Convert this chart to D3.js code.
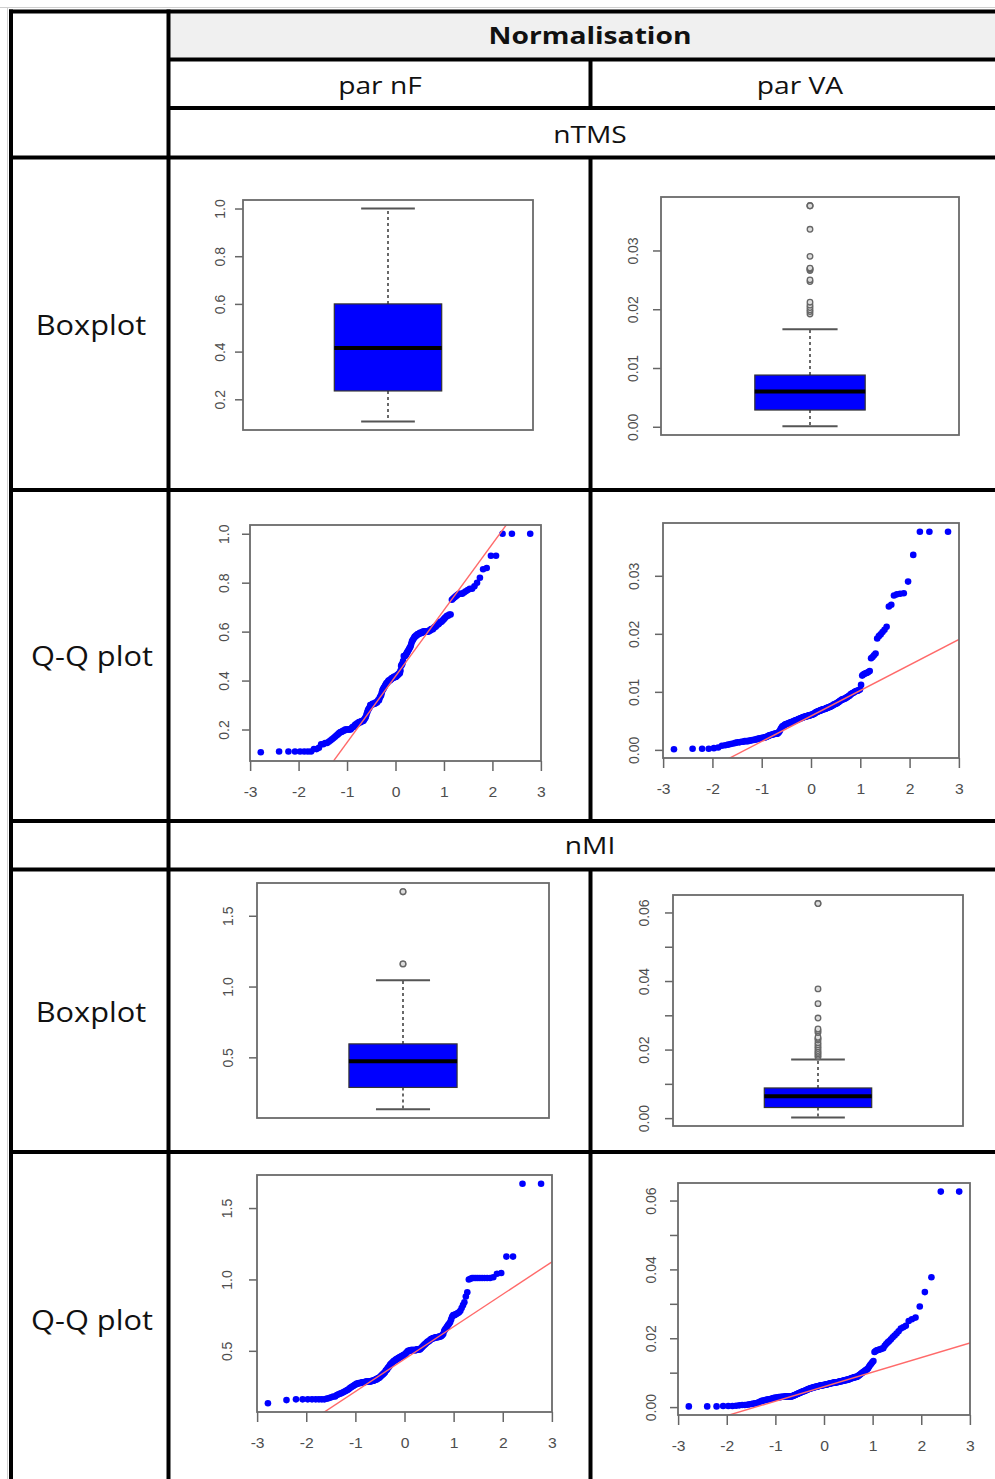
<!DOCTYPE html>
<html>
<head>
<meta charset="utf-8">
<script src="https://cdn.jsdelivr.net/npm/d3@7"></script>
<style>
  body { margin: 0; background: #fff; }
  text { font-family: "Open Sans", "DejaVu Sans", sans-serif; }
  .tick text { font-family: "Liberation Sans", Arial, sans-serif; }
</style>
</head>
<body>
<svg id="chart" width="995" height="1479"></svg>
<script>
// Table labels
const headerTitle = "Normalisation";
const columnLabels = ["par nF", "par VA"];
const groupLabels = ["nTMS", "nMI"];
const rowLabels = ["Boxplot", "Q-Q plot"];

// Samples (sorted); the boxplots use the same values
const nTMS_nF = [
  0.107, 0.11, 0.11, 0.11, 0.11, 0.11, 0.11, 0.11,
  0.12, 0.12, 0.125,
  0.14, 0.14, 0.145, 0.145, 0.15,
  0.155, 0.16,
  0.165, 0.17, 0.175,
  0.18, 0.185, 0.19, 0.19,
  0.195, 0.195, 0.2, 0.2,
  0.2, 0.2, 0.2, 0.2, 0.205,
  0.21, 0.21, 0.215, 0.22, 0.22,
  0.225, 0.225, 0.23, 0.23, 0.23, 0.235,
  0.235, 0.235, 0.24, 0.245, 0.25, 0.26,
  0.27, 0.28, 0.285, 0.29, 0.3, 0.3,
  0.3, 0.305, 0.305, 0.305, 0.305, 0.31, 0.31,
  0.31, 0.315, 0.32, 0.32, 0.33, 0.335, 0.34,
  0.35, 0.36, 0.365, 0.37, 0.375, 0.38, 0.385,
  0.39, 0.39, 0.395, 0.4, 0.4, 0.4, 0.405,
  0.405, 0.41, 0.41, 0.41, 0.415, 0.415, 0.415,
  0.415, 0.42, 0.42, 0.425, 0.425, 0.43, 0.43,
  0.44, 0.46, 0.465, 0.47, 0.48, 0.5, 0.5, 0.5,
  0.505, 0.51, 0.515, 0.52, 0.525, 0.53, 0.535,
  0.54, 0.55, 0.56, 0.565, 0.57, 0.575, 0.58,
  0.58, 0.585, 0.585, 0.59, 0.59, 0.59,
  0.595, 0.595, 0.595, 0.595, 0.6, 0.6, 0.6,
  0.6, 0.6, 0.6, 0.6, 0.6, 0.605,
  0.605, 0.61, 0.61, 0.61, 0.615,
  0.62, 0.62, 0.625, 0.63, 0.63,
  0.635, 0.64, 0.64, 0.645, 0.65,
  0.655, 0.66, 0.665, 0.665,
  0.67, 0.67, 0.73, 0.735,
  0.74, 0.745, 0.75,
  0.755, 0.755, 0.755,
  0.76, 0.765, 0.77,
  0.775, 0.775,
  0.785, 0.8,
  0.82,
  0.855, 0.86,
  0.91, 0.91,
  1.0, 1.0, 1.0
];

const nTMS_VA = [
  0.0001, 0.0002, 0.0002, 0.0002, 0.0003, 0.0004,
  0.0007, 0.0008, 0.0009, 0.001, 0.0011, 0.0012,
  0.0013, 0.0013, 0.0014, 0.0014, 0.0015, 0.0015, 0.0015, 0.0016, 0.0016, 0.0017, 0.0017, 0.0018, 0.0018,
  0.0019, 0.0019, 0.002, 0.002, 0.0021, 0.0021, 0.0021, 0.0022, 0.0022, 0.0023, 0.0024, 0.0025,
  0.0025, 0.0026, 0.0026, 0.0027, 0.0027, 0.0028, 0.0028, 0.0028, 0.0028,
  0.0029, 0.0031, 0.0033, 0.0036, 0.0038,
  0.004, 0.0041, 0.0042, 0.0043, 0.0044, 0.0044, 0.0045, 0.0045, 0.0046, 0.0046, 0.0047, 0.0047,
  0.0048, 0.0048, 0.0049, 0.0049, 0.005, 0.005, 0.0051, 0.0051, 0.0052, 0.0052, 0.0053, 0.0053,
  0.0054, 0.0054, 0.0055, 0.0055, 0.0056, 0.0056, 0.0057, 0.0057, 0.0057, 0.0058, 0.0058, 0.0058, 0.0059, 0.0059, 0.0059, 0.006, 0.006,
  0.006, 0.0061, 0.0061, 0.0062, 0.0062, 0.0063, 0.0064,
  0.0065, 0.0065, 0.0066, 0.0066, 0.0067, 0.0067, 0.0068, 0.0068, 0.0069, 0.0069, 0.007, 0.007, 0.007, 0.0071, 0.0071, 0.0072, 0.0072, 0.0073, 0.0073, 0.0074, 0.0074, 0.0075, 0.0075,
  0.0076, 0.0077, 0.0078, 0.0078, 0.0079, 0.008, 0.008, 0.0081, 0.0082, 0.0083, 0.0084, 0.0085, 0.0086, 0.0087, 0.0087, 0.0088, 0.0088, 0.0089, 0.009, 0.0091, 0.0092, 0.0093, 0.0094,
  0.0096, 0.0097, 0.0098, 0.0099, 0.01, 0.0101, 0.0102, 0.0102, 0.0103, 0.0104,
  0.0112,
  0.0128, 0.013, 0.0131, 0.0132, 0.0133, 0.0134, 0.0136,
  0.0158, 0.016, 0.0163, 0.0166,
  0.0192, 0.0196, 0.0199, 0.0203, 0.0207, 0.0212,
  0.0247, 0.025,
  0.0266, 0.0268, 0.0269, 0.027,
  0.029,
  0.0336,
  0.0376, 0.0376, 0.0376
];

const nMI_nF = [
  0.133,
  0.155,
  0.16, 0.16, 0.16, 0.16, 0.16, 0.16, 0.16, 0.16,
  0.165, 0.17, 0.175, 0.18, 0.18,
  0.19, 0.195, 0.2, 0.205, 0.21, 0.215, 0.22, 0.225, 0.23,
  0.24, 0.245, 0.25, 0.255, 0.26, 0.265, 0.27,
  0.27, 0.275, 0.275, 0.275, 0.28, 0.28, 0.28, 0.28, 0.285, 0.285, 0.285, 0.285, 0.285, 0.285,
  0.285, 0.29, 0.29, 0.29, 0.295, 0.295, 0.3, 0.3, 0.305, 0.31, 0.31, 0.315, 0.32,
  0.325, 0.33, 0.335, 0.34, 0.345, 0.35, 0.36, 0.365, 0.37, 0.38, 0.385, 0.39, 0.4,
  0.405, 0.41, 0.415, 0.42, 0.425, 0.43, 0.43, 0.435, 0.44, 0.44, 0.445, 0.45, 0.45, 0.455, 0.455, 0.46, 0.46, 0.465, 0.465, 0.47, 0.47,
  0.475, 0.48, 0.485, 0.49, 0.495, 0.5, 0.5, 0.5, 0.5, 0.505, 0.505, 0.505, 0.505, 0.505, 0.505, 0.505, 0.505, 0.505, 0.51, 0.51, 0.51, 0.51, 0.51, 0.515, 0.52, 0.525, 0.53, 0.535, 0.54,
  0.545, 0.55, 0.555, 0.56, 0.565, 0.565, 0.57, 0.575, 0.58,
  0.585, 0.585, 0.59, 0.59, 0.59, 0.595, 0.595, 0.595, 0.595, 0.6, 0.6, 0.6, 0.605, 0.61, 0.62,
  0.64, 0.65, 0.66, 0.67, 0.68, 0.69, 0.7,
  0.72, 0.74, 0.75, 0.75, 0.755, 0.76,
  0.765, 0.77, 0.78, 0.8, 0.82, 0.84,
  0.88, 0.91,
  1.0, 1.005, 1.01, 1.01, 1.01, 1.01, 1.01, 1.01, 1.01, 1.01, 1.01, 1.015,
  1.04, 1.045,
  1.16, 1.16,
  1.67, 1.67
];

const nMI_VA = [
  0.0002, 0.0002, 0.0002, 0.0003, 0.0003, 0.0003, 0.0004,
  0.0005, 0.0006, 0.0006, 0.0007, 0.0008, 0.0009, 0.001, 0.0011, 0.0012, 0.0014,
  0.0016, 0.0018, 0.0019, 0.002, 0.0021, 0.0022, 0.0023, 0.0023, 0.0024, 0.0025, 0.0026, 0.0027,
  0.0027, 0.0028, 0.0028, 0.0029, 0.0029, 0.0029, 0.003, 0.003, 0.003, 0.003, 0.0031, 0.0031, 0.0031, 0.0031, 0.0031, 0.0031,
  0.0031, 0.0031, 0.0032, 0.0033, 0.0034, 0.0035, 0.0036, 0.0037, 0.0038, 0.0039, 0.004, 0.0041, 0.0042, 0.0043, 0.0044, 0.0045, 0.0046, 0.0046, 0.0047, 0.0048, 0.0049, 0.005,
  0.0051, 0.0052, 0.0053, 0.0053, 0.0054, 0.0055, 0.0055, 0.0056, 0.0057, 0.0057, 0.0058, 0.0058, 0.0059, 0.0059, 0.006, 0.006, 0.0061, 0.0061, 0.0062, 0.0062, 0.0063, 0.0063, 0.0063, 0.0064, 0.0064,
  0.0064, 0.0065, 0.0065, 0.0066, 0.0066, 0.0067, 0.0067, 0.0068, 0.0068, 0.0069, 0.0069, 0.007, 0.007, 0.007, 0.0071, 0.0071, 0.0071, 0.0072, 0.0072, 0.0072, 0.0073, 0.0073, 0.0074, 0.0074, 0.0075,
  0.0075, 0.0076, 0.0076, 0.0077, 0.0077, 0.0078, 0.0078, 0.0079, 0.0079, 0.008, 0.008, 0.0081, 0.0082, 0.0083, 0.0084, 0.0085, 0.0085, 0.0086, 0.0087, 0.0087, 0.0088,
  0.0088, 0.009, 0.0092, 0.0094, 0.0096, 0.0098, 0.01, 0.0102, 0.0104, 0.0106, 0.0108, 0.011, 0.0113,
  0.0118, 0.0122, 0.0126, 0.013, 0.0134,
  0.016, 0.0163, 0.0165, 0.0166, 0.0167, 0.0168, 0.017, 0.0171,
  0.0178, 0.0183, 0.0188, 0.0192, 0.0197, 0.0203, 0.0208, 0.0214, 0.022, 0.0228,
  0.0232, 0.0236,
  0.025, 0.0255, 0.026,
  0.0292,
  0.0334,
  0.0377,
  0.0626, 0.0626
];

// Axis ticks (values and printed labels, as R drew them)
const ticks_nTMS_nF = [0.2, 0.4, 0.6, 0.8, 1.0];
const labels_nTMS_nF = ["0.2", "0.4", "0.6", "0.8", "1.0"];
const ticks_nTMS_VA = [0, 0.01, 0.02, 0.03];
const labels_nTMS_VA = ["0.00", "0.01", "0.02", "0.03"];
const ticks_nMI_nF = [0.5, 1.0, 1.5];
const labels_nMI_nF = ["0.5", "1.0", "1.5"];
const ticks_nMI_VA = [0, 0.01, 0.02, 0.03, 0.04, 0.05, 0.06];
const labels_nMI_VA = ["0.00", "", "0.02", "", "0.04", "", "0.06"];
const qqTicks = [-3, -2, -1, 0, 1, 2, 3];
const qqTickLabels = ["-3", "-2", "-1", "0", "1", "2", "3"];

// Panel placement inside the table: frame = [left, top, right, bottom]
const panels = [
  {kind: "box", sample: nTMS_nF, ticks: ticks_nTMS_nF, labels: labels_nTMS_nF, frame: [243, 200, 533, 430], labelOff: 24},
  {kind: "box", sample: nTMS_VA, ticks: ticks_nTMS_VA, labels: labels_nTMS_VA, frame: [661, 197, 959, 435], labelOff: 29},
  {kind: "qq", sample: nTMS_nF, ticks: ticks_nTMS_nF, labels: labels_nTMS_nF, frame: [250, 525, 541, 761], labelOff: 27},
  {kind: "qq", sample: nTMS_VA, ticks: ticks_nTMS_VA, labels: labels_nTMS_VA, frame: [663, 523, 959, 758], labelOff: 30},
  {kind: "box", sample: nMI_nF, ticks: ticks_nMI_nF, labels: labels_nMI_nF, frame: [257, 883, 549, 1118], labelOff: 30},
  {kind: "box", sample: nMI_VA, ticks: ticks_nMI_VA, labels: labels_nMI_VA, frame: [673, 895, 963, 1126], labelOff: 30},
  {kind: "qq", sample: nMI_nF, ticks: ticks_nMI_nF, labels: labels_nMI_nF, frame: [257, 1175, 552, 1412], labelOff: 31},
  {kind: "qq", sample: nMI_VA, ticks: ticks_nMI_VA, labels: labels_nMI_VA, frame: [678, 1183, 970, 1415], labelOff: 28}
];

// Inverse of the standard normal CDF (Acklam), for theoretical quantiles
function qnorm(p) {
  const a = [-39.69683028665376, 220.9460984245205, -275.9285104469687, 138.3577518672690, -30.66479806614716, 2.506628277459239];
  const b = [-54.47609879822406, 161.5858368580409, -155.6989798598866, 66.80131188771972, -13.28068155288572];
  const c = [-0.007784894002430293, -0.3223964580411365, -2.400758277161838, -2.549671010637556, 4.374664141464968, 2.938163982698783];
  const d = [0.007784695709041462, 0.3224671290700398, 2.445134137142996, 3.754408661907416];
  const pl = 0.02425;
  let q, r;
  if (p < pl) {
    q = Math.sqrt(-2 * Math.log(p));
    return (((((c[0]*q+c[1])*q+c[2])*q+c[3])*q+c[4])*q+c[5]) / ((((d[0]*q+d[1])*q+d[2])*q+d[3])*q+1);
  }
  if (p <= 1 - pl) {
    q = p - 0.5; r = q * q;
    return (((((a[0]*r+a[1])*r+a[2])*r+a[3])*r+a[4])*r+a[5])*q / (((((b[0]*r+b[1])*r+b[2])*r+b[3])*r+b[4])*r+1);
  }
  q = Math.sqrt(-2 * Math.log(1 - p));
  return -(((((c[0]*q+c[1])*q+c[2])*q+c[3])*q+c[4])*q+c[5]) / ((((d[0]*q+d[1])*q+d[2])*q+d[3])*q+1);
}

// R-style axis range: data range stretched by 4% on each side
function rRange(ext) {
  const pad = (ext[1] - ext[0]) * 0.04;
  return [ext[0] - pad, ext[1] + pad];
}

const svg = d3.select("#chart");

// ---- table ----
svg.append("rect").attr("x", 168).attr("y", 11).attr("width", 830).attr("height", 48).attr("fill", "#f0f0f0");
svg.append("line").attr("x1", 0).attr("x2", 995).attr("y1", 7.5).attr("y2", 7.5).attr("stroke", "#cfcfcf");
svg.append("line").attr("x1", 7.5).attr("x2", 7.5).attr("y1", 7.5).attr("y2", 1479).attr("stroke", "#cfcfcf");

const hLines = [[11.5, 9, 995], [59.5, 168, 995], [108, 168, 995], [157.5, 9, 995], [490, 9, 995], [821, 9, 995], [869.5, 9, 995], [1152, 9, 995]];
const vLines = [[11, 9.5, 1479], [168.5, 9.5, 1479], [590.5, 59.5, 108], [590.5, 157.5, 821], [590.5, 869.5, 1479]];
const grid = svg.append("g").attr("stroke", "#000").attr("stroke-width", 4);
hLines.forEach(l => grid.append("line").attr("x1", l[1]).attr("x2", l[2]).attr("y1", l[0]).attr("y2", l[0]));
vLines.forEach(l => grid.append("line").attr("x1", l[0]).attr("x2", l[0]).attr("y1", l[1]).attr("y2", l[2]));

function cellText(str, x, y, size, sx, bold) {
  svg.append("text")
     .attr("transform", "translate(" + x + "," + y + ") scale(" + sx + ",1)")
     .attr("text-anchor", "middle")
     .attr("dy", "0.36em")
     .style("font-size", size + "px")
     .style("font-weight", bold ? 700 : 400)
     .attr("fill", "#111")
     .text(str);
}

cellText(headerTitle, 590, 36, 23.5, 1.2, true);
cellText(columnLabels[0], 380, 86, 23.5, 1.2, false);
cellText(columnLabels[1], 800, 86, 23.5, 1.2, false);
cellText(groupLabels[0], 590, 135, 23.5, 1.2, false);
cellText(groupLabels[1], 590, 846, 23.5, 1.2, false);
cellText(rowLabels[0], 91, 325, 27, 1.14, false);
cellText(rowLabels[1], 92, 656, 27, 1.14, false);
cellText(rowLabels[0], 91, 1012, 27, 1.14, false);
cellText(rowLabels[1], 92, 1320, 27, 1.14, false);

// ---- panels ----
panels.forEach((p, idx) => {
  const [x0, y0, x1, y1] = p.frame;
  const sorted = p.sample.slice().sort(d3.ascending);
  const n = sorted.length;
  const g = svg.append("g");

  const yScale = d3.scaleLinear().domain(rRange(d3.extent(sorted))).range([y1, y0]);

  // y axis with R-style rotated labels
  const yAx = g.append("g")
     .attr("transform", "translate(" + x0 + ",0)")
     .call(d3.axisLeft(yScale).tickValues(p.ticks).tickSize(8).tickFormat((d, i) => p.labels[i]));
  yAx.select(".domain").remove();
  yAx.selectAll(".tick line").attr("stroke", "#666").attr("stroke-width", 1.5);
  yAx.selectAll(".tick text")
     .attr("x", null).attr("dy", "0.36em")
     .attr("transform", "translate(" + (-p.labelOff) + ",0) scale(1.1,1) rotate(-90)")
     .attr("text-anchor", "middle")
     .attr("fill", "#4d4d4d")
     .style("font-size", "14px");

  const clipId = "clip" + idx;
  g.append("clipPath").attr("id", clipId)
   .append("rect").attr("x", x0).attr("y", y0).attr("width", x1 - x0).attr("height", y1 - y0);

  if (p.kind === "box") {
    const xScale = d3.scaleLinear().domain([0.46, 1.54]).range([x0, x1]);
    const q1 = (sorted[45] + sorted[46]) / 2;          // Tukey hinges (fivenum)
    const med = (sorted[91] + sorted[92]) / 2;
    const q3 = (sorted[137] + sorted[138]) / 2;
    const iqr = q3 - q1;
    const hiW = d3.max(sorted.filter(v => v <= q3 + 1.5 * iqr));
    const loW = d3.min(sorted.filter(v => v >= q1 - 1.5 * iqr));
    const outliers = sorted.filter(v => v > hiW || v < loW);

    // whiskers
    g.selectAll(".whisker").data([[q3, hiW], [q1, loW]]).enter().append("line")
     .attr("x1", xScale(1)).attr("x2", xScale(1))
     .attr("y1", d => yScale(d[0])).attr("y2", d => yScale(d[1]))
     .attr("stroke", "#444").attr("stroke-width", 1.6).attr("stroke-dasharray", "3,3");
    // staples
    g.selectAll(".staple").data([hiW, loW]).enter().append("line")
     .attr("x1", xScale(0.9)).attr("x2", xScale(1.1))
     .attr("y1", d => yScale(d)).attr("y2", d => yScale(d))
     .attr("stroke", "#555").attr("stroke-width", 2);
    // box
    g.append("rect")
     .attr("x", xScale(0.8)).attr("width", xScale(1.2) - xScale(0.8))
     .attr("y", yScale(q3)).attr("height", yScale(q1) - yScale(q3))
     .attr("fill", "#0000ff").attr("stroke", "#333").attr("stroke-width", 1.2);
    // median
    g.append("line")
     .attr("x1", xScale(0.8)).attr("x2", xScale(1.2))
     .attr("y1", yScale(med)).attr("y2", yScale(med))
     .attr("stroke", "#000").attr("stroke-width", 4);
    // outliers
    g.selectAll(".out").data(outliers).enter().append("circle")
     .attr("cx", xScale(1)).attr("cy", d => yScale(d)).attr("r", 2.8)
     .attr("fill", "#ddd").attr("stroke", "#666").attr("stroke-width", 1.3);
  } else {
    const pts = sorted.map((v, i) => ({q: qnorm((i + 1 - 0.5) / n), v: v}));
    const xScale = d3.scaleLinear().domain(rRange(d3.extent(pts, d => d.q))).range([x0, x1]);

    const xAx = g.append("g")
       .attr("transform", "translate(0," + y1 + ")")
       .call(d3.axisBottom(xScale).tickValues(qqTicks).tickSize(10).tickPadding(16)
               .tickFormat((d, i) => qqTickLabels[i]));
    xAx.select(".domain").remove();
    xAx.selectAll(".tick line").attr("stroke", "#666").attr("stroke-width", 1.5);
    xAx.selectAll(".tick text").attr("fill", "#4d4d4d").style("font-size", "14px")
       .attr("transform", "scale(1.12,1)");

    // points
    g.selectAll(".pt").data(pts).enter().append("circle")
     .attr("cx", d => xScale(d.q)).attr("cy", d => yScale(d.v)).attr("r", 3.3)
     .attr("fill", "#0000ff");

    // qqline through the first and third quartiles
    const yq = [d3.quantile(sorted, 0.25), d3.quantile(sorted, 0.75)];
    const xq = [qnorm(0.25), qnorm(0.75)];
    const slope = (yq[1] - yq[0]) / (xq[1] - xq[0]);
    const icpt = yq[0] - slope * xq[0];
    const xd = xScale.domain();
    g.append("line")
     .attr("clip-path", "url(#" + clipId + ")")
     .attr("x1", xScale(xd[0])).attr("x2", xScale(xd[1]))
     .attr("y1", yScale(icpt + slope * xd[0])).attr("y2", yScale(icpt + slope * xd[1]))
     .attr("stroke", "#ff6a6a").attr("stroke-width", 1.4);
  }

  // plot frame
  g.append("rect")
   .attr("x", x0).attr("y", y0).attr("width", x1 - x0).attr("height", y1 - y0)
   .attr("fill", "none").attr("stroke", "#6a6a6a").attr("stroke-width", 1.8);
});
</script>
</body>
</html>
